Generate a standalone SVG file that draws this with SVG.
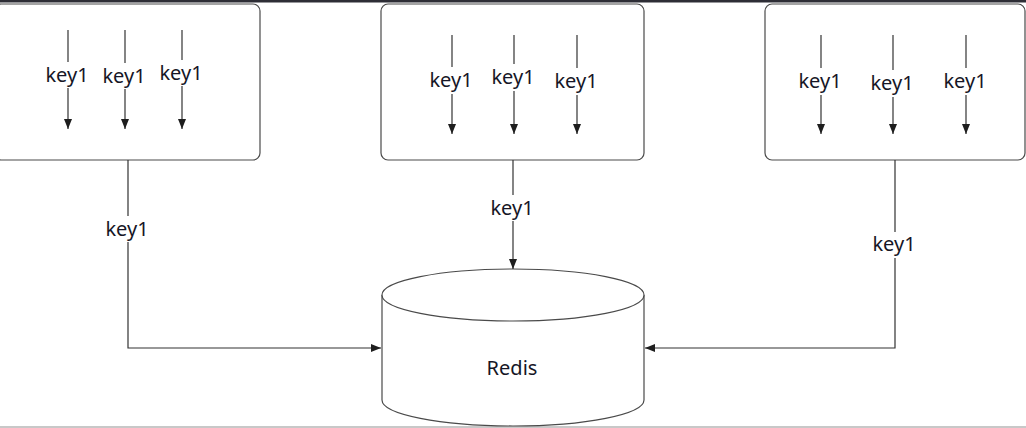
<svg xmlns="http://www.w3.org/2000/svg" width="1026" height="428" viewBox="0 0 1026 428">
<style>
.box{fill:#fff;stroke:#4a4a4a;stroke-width:1.2}
.ln{fill:none;stroke:#333;stroke-width:1.2}
.arr{marker-end:url(#ah)}
.t{font-family:"Noto Sans","Liberation Sans",sans-serif;font-size:20px;fill:#161626;text-anchor:middle}
.bg{fill:#fff}
</style>
<defs>
<marker id="ah" viewBox="0 0 10 8" refX="10" refY="4" markerWidth="10" markerHeight="8" markerUnits="userSpaceOnUse" orient="auto">
<path d="M0,0 L10,4 L0,8 z" fill="#1e1e1e"/>
</marker>
</defs>
<rect x="0" y="0" width="1026" height="428" fill="#fff"/>
<rect x="0" y="0" width="1026" height="2.5" fill="#2e2e36"/>
<rect x="0" y="426" width="1026" height="2" fill="#c8c8c8"/>

<g id="box1">
<rect class="box" x="-6" y="4" width="266" height="156" rx="7"/>
<line class="ln arr" x1="68" y1="30" x2="68" y2="129"/>
<line class="ln arr" x1="125" y1="30" x2="125" y2="129"/>
<line class="ln arr" x1="182" y1="30" x2="182" y2="129"/>
<rect class="bg" x="45" y="62" width="44" height="26"/>
<rect class="bg" x="102" y="63" width="44" height="26"/>
<rect class="bg" x="159" y="60" width="44" height="26"/>
<text class="t" x="67" y="82">key1</text>
<text class="t" x="124" y="83">key1</text>
<text class="t" x="181" y="80">key1</text>
</g>

<g id="box2">
<rect class="box" x="381" y="4" width="263" height="156" rx="7"/>
<line class="ln arr" x1="452" y1="35" x2="452" y2="134"/>
<line class="ln arr" x1="514" y1="35" x2="514" y2="134"/>
<line class="ln arr" x1="577" y1="35" x2="577" y2="134"/>
<rect class="bg" x="430" y="67" width="44" height="27"/>
<rect class="bg" x="492" y="64" width="44" height="27"/>
<rect class="bg" x="555" y="68" width="44" height="27"/>
<text class="t" x="451" y="87">key1</text>
<text class="t" x="513" y="84">key1</text>
<text class="t" x="576" y="88">key1</text>
</g>

<g id="box3">
<rect class="box" x="765" y="4" width="260" height="156" rx="7"/>
<line class="ln arr" x1="821" y1="35" x2="821" y2="134"/>
<line class="ln arr" x1="893" y1="35" x2="893" y2="134"/>
<line class="ln arr" x1="966" y1="35" x2="966" y2="134"/>
<rect class="bg" x="799" y="68" width="44" height="27"/>
<rect class="bg" x="871" y="70" width="44" height="27"/>
<rect class="bg" x="944" y="68" width="44" height="27"/>
<text class="t" x="820" y="88">key1</text>
<text class="t" x="892" y="90">key1</text>
<text class="t" x="965" y="88">key1</text>
</g>

<g id="redis">
<path class="box" d="M382,295 L382,400 A131,26 0 0 0 644,400 L644,295"/>
<ellipse class="box" cx="513" cy="295" rx="131" ry="26"/>
<text class="t" x="512" y="375">Redis</text>
</g>

<g id="connectors">
<polyline class="ln arr" points="128,160 128,348 381,348"/>
<line class="ln arr" x1="513" y1="160" x2="513" y2="269"/>
<polyline class="ln arr" points="895,160 895,348 645,348"/>
<rect class="bg" x="104" y="216" width="48" height="26"/>
<rect class="bg" x="489" y="195" width="48" height="26"/>
<rect class="bg" x="871" y="232" width="48" height="26"/>
<text class="t" x="127" y="236">key1</text>
<text class="t" x="512" y="215">key1</text>
<text class="t" x="894" y="251">key1</text>
</g>
</svg>
